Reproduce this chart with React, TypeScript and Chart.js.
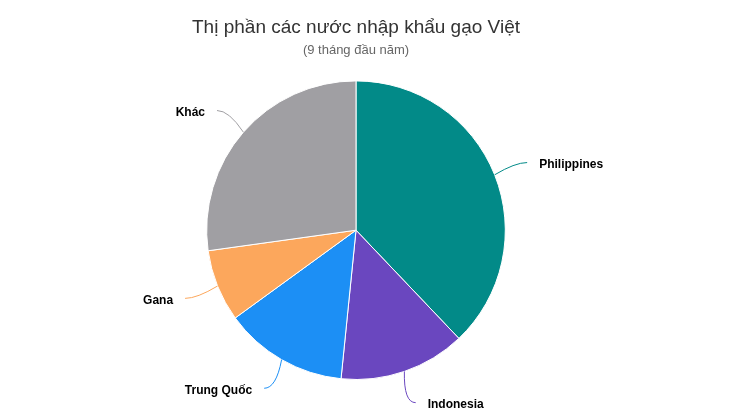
import { useEffect, useRef } from 'react';
import { Chart, registerables, type ChartConfiguration, type Plugin } from 'chart.js';

Chart.register(...registerables);

// ── Data ──────────────────────────────────────────────────────────────────────

const COUNTRIES = ['Philippines', 'Indonesia', 'Trung Quốc', 'Gana', 'Khác'];
const SHARES    = [37.9, 13.7, 13.4, 7.8, 27.2];
const COLORS    = ['#028a88', '#6a47bf', '#1c8ff5', '#fca75c', '#a09fa3'];

const TITLE    = 'Thị phần các nước nhập khẩu gạo Việt';
const SUBTITLE = '(9 tháng đầu năm)';

const FONT = '"Liberation Sans", Arial, Helvetica, sans-serif';

// ── Outside labels with soft connectors ───────────────────────────────────────

const pieLabels: Plugin<'pie'> = {
  id: 'pieLabels',
  afterDatasetsDraw(chart) {
    const { ctx } = chart;
    const meta = chart.getDatasetMeta(0);
    const labels = chart.data.labels as string[];

    ctx.save();
    ctx.font = `bold 12px ${FONT}`;
    ctx.textBaseline = 'middle';

    meta.data.forEach((el, i) => {
      const arc = el as unknown as {
        x: number; y: number; startAngle: number; endAngle: number; outerRadius: number;
      };
      const mid = (arc.startAngle + arc.endAngle) / 2;
      const cos = Math.cos(mid);
      const sin = Math.sin(mid);
      const r   = arc.outerRadius;
      const side = cos >= 0 ? 1 : -1;

      const x0 = arc.x + r * cos;
      const y0 = arc.y + r * sin;
      const x2 = arc.x + (r + 35) * cos;
      const y2 = arc.y + (r + 33) * sin;

      ctx.strokeStyle = COLORS[i];
      ctx.lineWidth = 1;
      ctx.beginPath();
      ctx.moveTo(x0, y0);
      ctx.quadraticCurveTo(x2 - side * 12, y2, x2, y2);
      ctx.stroke();

      ctx.fillStyle = '#000';
      ctx.textAlign = side > 0 ? 'left' : 'right';
      ctx.fillText(labels[i], x2 + side * 12, y2 + 2);
    });

    ctx.restore();
  },
};

// ── Chart ─────────────────────────────────────────────────────────────────────

export default function App() {
  const canvasRef = useRef<HTMLCanvasElement>(null);
  const chartRef  = useRef<Chart<'pie'> | null>(null);

  useEffect(() => {
    const canvas = canvasRef.current;
    if (!canvas) return;

    const config: ChartConfiguration<'pie'> = {
      type: 'pie',
      data: {
        labels: COUNTRIES,
        datasets: [{
          data:            SHARES,
          backgroundColor: COLORS,
          borderColor:     '#ffffff',
          borderWidth:     1,
        }],
      },
      options: {
        responsive:          true,
        maintainAspectRatio: false,
        animation:           false,
        layout: { padding: { top: 0, bottom: 34, left: 0, right: 0 } },
        plugins: {
          legend:  { display: false },
          tooltip: { enabled: false },
          title: {
            display: true,
            text:    TITLE,
            color:   '#333333',
            font:    { family: FONT, size: 19, weight: 'normal' },
            padding: { top: 8, bottom: 0 },
          },
          subtitle: {
            display: true,
            text:    SUBTITLE,
            color:   '#666666',
            font:    { family: FONT, size: 13, weight: 'normal' },
            padding: { top: 4, bottom: 22 },
          },
        },
      },
      plugins: [pieLabels],
    };

    chartRef.current?.destroy();
    chartRef.current = new Chart(canvas, config);

    return () => { chartRef.current?.destroy(); chartRef.current = null; };
  }, []);

  return (
    <div style={{ position: 'relative', width: 696, height: 406, background: '#fff' }}>
      <canvas ref={canvasRef} />
    </div>
  );
}
